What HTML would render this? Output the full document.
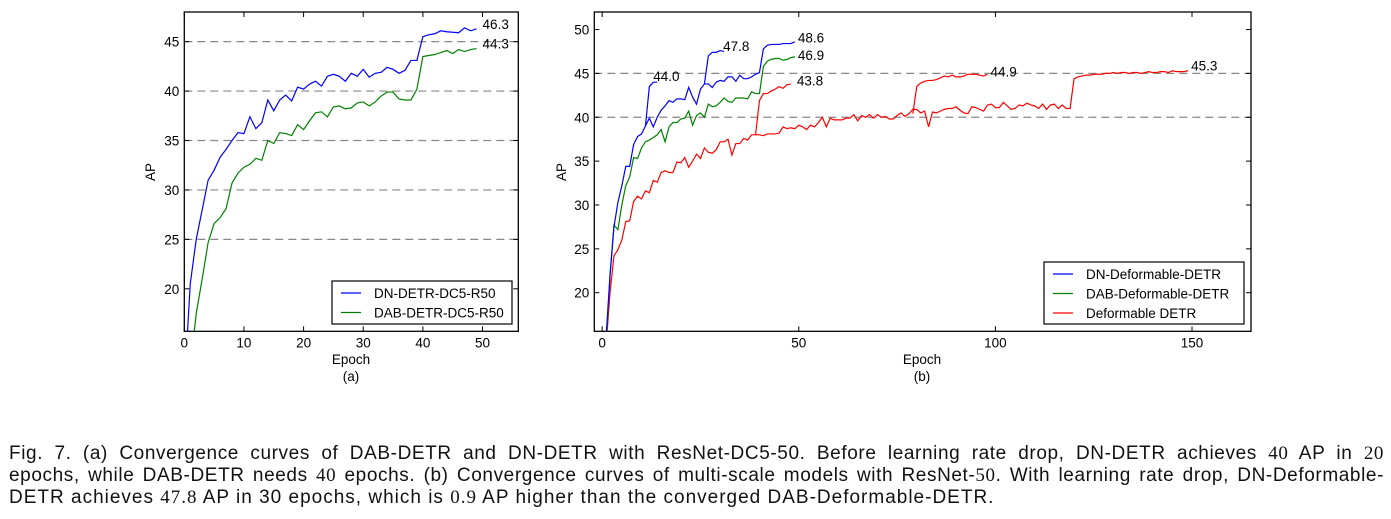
<!DOCTYPE html>
<html><head><meta charset="utf-8"><style>
body{margin:0;background:#fff;width:1391px;height:519px;overflow:hidden;font-family:"Liberation Sans",sans-serif}
svg text{font-family:"Liberation Sans",sans-serif}
#cap{position:absolute;left:9px;top:443px;width:1375px;font-size:19px;letter-spacing:1px;line-height:22px;color:#111}
#cap div{white-space:nowrap}
#cap .j{text-align:justify;text-align-last:justify;letter-spacing:0.6px}
#cap i{font-family:"Liberation Serif",serif;font-style:normal}
</style></head><body>
<svg id="chart" width="1391" height="519" style="position:absolute;left:0;top:0"></svg>
<div id="cap">
<div class="j">Fig. 7. (a) Convergence curves of DAB-DETR and DN-DETR with ResNet-DC5-50. Before learning rate drop, DN-DETR achieves <i>40</i> AP in <i>20</i></div>
<div class="j">epochs, while DAB-DETR needs <i>40</i> epochs. (b) Convergence curves of multi-scale models with ResNet-<i>50</i>. With learning rate drop, DN-Deformable-</div>
<div>DETR achieves <i>47.8</i> AP in 30 epochs, which is <i>0.9</i> AP higher than the converged DAB-Deformable-DETR.</div>
</div>
<script>
// ---- data (a)
const aDN=[10,20.5,25,28,31,32,33.3,34.1,35,35.8,35.7,37.4,36.2,36.8,39.1,38.0,39.1,39.6,39.0,40.4,40.2,40.7,41.0,40.5,41.5,41.7,41.5,41.0,41.8,41.5,42.2,41.4,41.8,41.9,42.4,42.2,41.8,42.1,43.1,43.1,45.5,45.7,45.8,46.1,46.0,45.95,45.9,46.4,46.1,46.3];
const aDAB=[5,12,17.5,21,24.7,26.6,27.2,28.1,30.7,31.7,32.3,32.6,33.2,33.0,35.0,34.7,35.8,35.7,35.5,36.6,36.1,37.0,37.8,37.9,37.4,38.4,38.5,38.2,38.3,38.8,38.9,38.5,38.9,39.5,39.9,39.9,39.2,39.1,39.1,40.2,43.5,43.6,43.7,43.9,44.1,43.8,44.2,44.0,44.2,44.3];
const aTicksX=[0,10,20,30,40,50];
const aTicksY=[20,25,30,35,40,45];
const aGrid=[25,30,35,40,45];
// ---- data (b)
const bDN=[5,15,22,27.5,30.3,32.2,34.4,34.4,36.9,37.8,38.1,39.0,39.9,38.9,40.0,40.8,41.3,41.9,41.7,42.1,42.1,42.0,43.4,42.3,41.5,43.2,43.8,43.8,43.4,44.0,44.2,44.1,44.6,44.6,44.1,44.8,44.4,44.4,44.6,44.9,45.1,47.8,48.2,48.3,48.3,48.3,48.4,48.4,48.4,48.6];
const bDNb1Start=11, bDNb1=[39.0,43.5,44.0,44.0];
const bDNb2Start=26, bDNb2=[43.8,47.0,47.4,47.4,47.6,47.5];
const bDAB=[5,14,22,27.7,27.2,30,32.2,33.2,35.4,35.3,36.5,37.2,37.4,37.7,38.0,38.6,37.2,38.9,39.4,39.4,39.8,39.9,40.7,39.1,40.2,40.5,40.0,41.5,41.2,41.3,41.7,42.2,41.8,41.7,42.2,42.2,42.2,42.1,42.9,42.7,42.7,45.8,46.4,46.6,46.7,46.7,46.5,46.6,46.8,46.9];
const bDef=[5,14,20,24.2,24.9,26.0,28.1,28.2,30.4,31.0,30.7,31.6,31.4,32.8,32.6,33.7,33.9,33.7,33.7,34.9,34.8,35.4,34.3,35.0,35.8,35.3,36.5,36.0,35.9,36.3,37.2,37.2,37.5,35.7,37.0,37.0,37.6,37.4,38.0,38.0,38.0,37.9,38.1,38.1,38.1,38.2,38.9,38.7,38.8,38.7,39.1,38.9,38.6,39.1,38.9,39.4,40.0,38.9,39.9,39.7,39.7,39.7,39.9,39.9,40.3,39.6,40.2,40.0,40.3,39.9,40.3,40.0,40.1,39.8,39.8,40.2,40.5,40.1,40.4,40.9,40.9,40.5,40.7,38.9,40.6,40.5,40.7,40.9,41.0,41.0,41.2,40.8,40.5,40.4,41.2,41.1,40.9,40.7,41.4,41.5,41.1,41.1,41.7,41.3,40.9,41.0,41.4,41.3,41.6,41.4,41.3,41.0,41.5,40.9,41.4,41.5,41.0,41.4,41.0,41.0,44.4,44.6,44.7,44.8,44.8,44.9,44.9,44.9,45.0,45.0,45.1,45.0,45.1,45.1,45.0,45.1,45.1,45.0,45.1,45.2,45.1,45.1,45.2,45.2,45.1,45.3,45.2,45.2,45.2,45.3];
const bDefb1Start=39, bDefb1=[38.0,41.9,42.7,42.7,43.0,43.2,43.5,43.3,43.7,43.8];
const bDefb2Start=79, bDefb2=[40.4,43.5,43.9,44.1,44.2,44.2,44.3,44.5,44.7,44.6,44.8,44.6,44.6,44.7,44.9,44.9,44.9,44.8,44.7,44.9];
const bTicksX=[0,50,100,150];
const bTicksY=[20,25,30,35,40,45,50];
const bGrid=[40,45];

const svg=document.getElementById('chart');const NS='http://www.w3.org/2000/svg';
function mk(tag,at,parent){const e=document.createElementNS(NS,tag);for(const k in at)e.setAttribute(k,at[k]);(parent||svg).appendChild(e);return e;}
function txt(s,at,parent){const e=mk('text',at,parent);e.textContent=s;return e;}

function panel(name,L,R,T,B,x0,x1,y0,y1,tx,ty,grid){
  const g=mk('g',{});
  
  
  const sx=v=>L+(v-x0)/(x1-x0)*(R-L), sy=v=>B-(v-y0)/(y1-y0)*(B-T);
  const cid=name+'-clip';
  const cp=mk('clipPath',{id:cid},g);mk('rect',{x:L,y:T,width:R-L,height:B-T},cp);
  for(const v of grid){const l=mk('line',{x1:L,x2:R,y1:sy(v),y2:sy(v),stroke:'#888','stroke-width':1.2,'stroke-dasharray':'8,5'},g);
    
    }
  for(const v of tx){const x=sx(v);mk('line',{x1:x,x2:x,y1:B,y2:B-5,stroke:'#000'},g);mk('line',{x1:x,x2:x,y1:T,y2:T+5,stroke:'#000'},g);
    const t=txt(String(v),{x:x,y:B+16,'text-anchor':'middle','font-size':13.5},g);
    
    }
  for(const v of ty){const y=sy(v);mk('line',{x1:L,x2:L+5,y1:y,y2:y,stroke:'#000'},g);mk('line',{x1:R,x2:R-5,y1:y,y2:y,stroke:'#000'},g);
    const t=txt(String(v),{x:L-5,y:y+5,'text-anchor':'end','font-size':13.5},g);
    
    }
  const f=mk('rect',{x:L,y:T,width:R-L,height:B-T,fill:'none',stroke:'#000','stroke-width':1.3},g);
  
  
  const line=(arr,start,col,nm)=>{const p=arr.map((v,i)=>sx(start+i).toFixed(2)+','+sy(v).toFixed(2)).join(' ');
    const pl=mk('polyline',{points:p,fill:'none',stroke:col,'stroke-width':1.2,'clip-path':'url(#'+cid+')'},g);
    
    return pl;};
  const lab=(s,e,v,dx)=>{const t=txt(s,{x:sx(e)+dx,y:sy(v)+4,'font-size':13.5},g);
    
    };
  return {g,sx,sy,line,lab};
}
// (a)
const A=panel('chart-a',184.3,518.3,12,331.3,0,56,15.7,48,aTicksX,aTicksY,aGrid);
A.line(aDN,0,'#0000ff','series-dn-detr');A.line(aDAB,0,'#008000','series-dab-detr');
A.lab('46.3',49,aDN[49]+0.4,6);A.lab('44.3',49,aDAB[49]+0.4,6);
// (b)
const Bp=panel('chart-b',594.3,1251,12,331.3,-2,165,15.6,52,bTicksX,bTicksY,bGrid);
Bp.line(bDef,0,'#ff0000','series-deformable-detr');
Bp.line(bDefb1,bDefb1Start,'#ff0000','series-deformable-detr-drop40');
Bp.line(bDefb2,bDefb2Start,'#ff0000','series-deformable-detr-drop80');
Bp.line(bDAB,0,'#008000','series-dab-deformable-detr');
Bp.line(bDN,0,'#0000ff','series-dn-deformable-detr');
Bp.line(bDNb1,bDNb1Start,'#0000ff','series-dn-deformable-drop12');
Bp.line(bDNb2,bDNb2Start,'#0000ff','series-dn-deformable-drop30');
Bp.lab('44.0',14,44.6,-4);Bp.lab('47.8',31,48.0,-1);Bp.lab('48.6',49,49.0,3);Bp.lab('46.9',49,47.0,3);
Bp.lab('43.8',48,44.1,6);Bp.lab('44.9',98,45.1,3);Bp.lab('45.3',149,45.8,3);
// axis labels
function lbl(s,at,nm){const t=txt(s,at);}
lbl('Epoch',{x:351,y:364,'text-anchor':'middle','font-size':13.5},'x-axis-title-a');
lbl('(a)',{x:351,y:381,'text-anchor':'middle','font-size':13.5},'panel-label-a');
lbl('AP',{x:155,y:172,'text-anchor':'middle','font-size':13.5,transform:'rotate(-90 155 172)'},'y-axis-title-a');
lbl('Epoch',{x:922,y:364,'text-anchor':'middle','font-size':13.5},'x-axis-title-b');
lbl('(b)',{x:922,y:381,'text-anchor':'middle','font-size':13.5},'panel-label-b');
lbl('AP',{x:566,y:172,'text-anchor':'middle','font-size':13.5,transform:'rotate(-90 566 172)'},'y-axis-title-b');
// legends
function legend(x,y,w,h,items,nm){const g=mk('g',{});
  mk('rect',{x:x,y:y,width:w,height:h,fill:'#fff',stroke:'#000','stroke-width':1.2},g);
  items.forEach((it,i)=>{const yy=y+12+i*19.5;mk('line',{x1:x+9,x2:x+29,y1:yy,y2:yy,stroke:it[1],'stroke-width':1.2},g);
    const t=txt(it[0],{x:x+42,y:yy+5,'font-size':13.5},g);});}
legend(332,281,180,43,[['DN-DETR-DC5-R50','#0000ff'],['DAB-DETR-DC5-R50','#008000']],'legend-a');
legend(1044,262,200,62,[['DN-Deformable-DETR','#0000ff'],['DAB-Deformable-DETR','#008000'],['Deformable DETR','#ff0000']],'legend-b');
</script>
</body></html>
